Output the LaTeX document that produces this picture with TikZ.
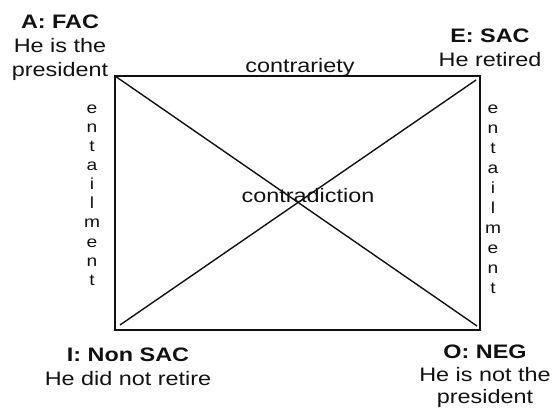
\documentclass[tikz,border=0pt]{standalone}
\usepackage{fontspec}
\setmainfont{Liberation Sans}[FakeStretch=1.2]
\usetikzlibrary{calc}
\definecolor{inkblack}{HTML}{111111}
\tikzset{
  cornerlabel/.style={font=\fontsize{19.5}{24}\selectfont, align=center, inner sep=0pt, anchor=north, text=inkblack},
  relationlabel/.style={font=\fontsize{19.5}{24}\selectfont, inner sep=0pt, anchor=base, text=inkblack},
  stacklabel/.style={font=\fontsize{16}{#1}\selectfont, align=center, inner sep=0pt, anchor=north, text=inkblack},
  squareedge/.style={inkblack, line width=1.9pt},
  diagonal/.style={inkblack, line width=1.4pt},
}

\begin{document}
\begin{tikzpicture}[x=1pt,y=-1pt]
    \useasboundingbox (0,0) rectangle (555,409);

    % Corners of the square
    \coordinate (cA) at (115,76);
    \coordinate (cE) at (480,76);
    \coordinate (cI) at (115,330);
    \coordinate (cO) at (480,330);

    % Ends of the diagonals
    \coordinate (dA) at (115,76);
    \coordinate (dO) at (477,326);
    \coordinate (dI) at (120,325);
    \coordinate (dE) at (476,80);

    % Square and diagonals
    \draw[squareedge] (cA) rectangle (cO);
    \draw[diagonal] (dA) -- (dO);
    \draw[diagonal] (dI) -- (dE);

    % Corner labels
    \node[cornerlabel] (labA) at (60,15) {\textbf{A: FAC}\\He is the\\president};
    \node[cornerlabel] (labE) at (490,29) {\textbf{E: SAC}\\He retired};
    \node[cornerlabel] (labI) at (128,348) {\textbf{I: Non SAC}\\He did not retire};
    \node[cornerlabel, font=\fontsize{19.5}{22.5}\selectfont] (labO) at (485,345) {\textbf{O: NEG}\\He is not the\\president};

    % Relations
    \node[relationlabel] (contrariety) at (300,73) {contrariety};
    \node[relationlabel] (contradiction) at (308,203) {contradiction};
    \node[stacklabel=19.1] (entailL) at (92,104.5) {e\\n\\t\\a\\i\\l\\m\\e\\n\\t};
    \node[stacklabel=20] (entailR) at (493,104.5) {e\\n\\t\\a\\i\\l\\m\\e\\n\\t};

\end{tikzpicture}
\end{document}
